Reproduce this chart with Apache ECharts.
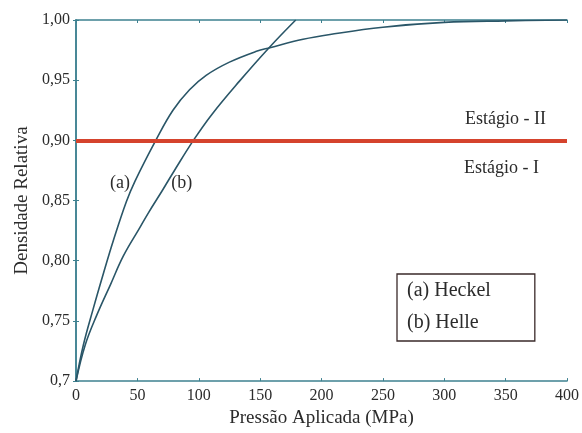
<!DOCTYPE html>
<html>
<head>
<meta charset="utf-8">
<script src="https://cdn.jsdelivr.net/npm/echarts@6/dist/echarts.min.js"></script>
<style>
html,body{margin:0;padding:0;background:#fff;}
#chart{width:582px;height:433px;}
</style>
</head>
<body>
<div id="chart"></div>
<script>
// Pressure (MPa) and relative density points
const heckelPressure = [0, 6, 14, 22.5, 30.5, 41, 48, 65, 79, 92.5, 106, 125, 147, 158, 185, 207, 250, 300, 350, 400];
const heckelDensity  = [0.700, 0.730, 0.760, 0.790, 0.817, 0.849, 0.866, 0.900, 0.925, 0.942, 0.954, 0.965, 0.974, 0.977, 0.984, 0.988, 0.994, 0.998, 0.9993, 1.000];
const hellePressure  = [0, 7.5, 17, 28, 38.6, 52, 58.5, 70.7, 80.2, 96.3, 111, 133, 157.3, 179];
const helleDensity   = [0.700, 0.730, 0.755, 0.780, 0.804, 0.8275, 0.839, 0.859, 0.875, 0.901, 0.922, 0.949, 0.977, 1.000];
const stageLimit = 0.90;
const seriesNames = ['(a) Heckel', '(b) Helle'];
const curveTags = ['(a)', '(b)'];
const curveTagPos = [[35.8, 0.864], [86.2, 0.864]];
const stageLabels = ['Estágio - II', 'Estágio - I'];
const xTitle = 'Pressão Aplicada (MPa)';
const yTitle = 'Densidade Relativa';

const FONT = 'Liberation Serif';
const TXT = '#2b2b2b';
const AXC = '#3e8190';
const LINEC = '#2a5668';
const RED = '#d5432d';

function pairs(xs, ys){ return xs.map((x,i)=>[x, ys[i]]); }
function yFmt(v){
  const r = Math.round(v*100)/100;
  if (Math.abs(r-0.7) < 1e-9) return '0,7';
  return r.toFixed(2).replace('.', ',');
}

const chart = echarts.init(document.getElementById('chart'), null, {renderer:'canvas'});
const baseAxis = {
  axisLine:{show:true, lineStyle:{color:AXC, width:1.5}},
  axisTick:{show:true, inside:true, length:3, lineStyle:{color:AXC}},
  splitLine:{show:false}
};
chart.setOption({
  animation:false,
  backgroundColor:'#fff',
  grid:{left:76, right:14, top:20, bottom:50},
  legend:{
    orient:'vertical', left:397, top:274,
    data:seriesNames.map(n=>({name:n, icon:'none'})),
    itemWidth:0, itemHeight:0, itemGap:12,
    padding:[7,44,8,5],
    borderColor:'#3a2a2a', borderWidth:1.3,
    selectedMode:false,
    textStyle:{fontFamily:FONT, fontSize:20, color:TXT}
  },
  xAxis:[
    Object.assign({}, baseAxis, {
      type:'value', min:0, max:400, interval:50, position:'bottom',
      name:xTitle, nameLocation:'middle', nameGap:18,
      nameTextStyle:{fontFamily:FONT, fontSize:19, color:TXT},
      axisLabel:{fontFamily:FONT, fontSize:16, color:TXT, margin:7}
    }),
    Object.assign({}, baseAxis, {
      type:'value', min:0, max:400, interval:50, position:'top',
      axisLabel:{show:false}
    })
  ],
  yAxis:[
    Object.assign({}, baseAxis, {
      type:'value', min:0.7, max:1.0, interval:0.05, position:'left',
      name:yTitle, nameLocation:'middle', nameGap:44,
      nameTextStyle:{fontFamily:FONT, fontSize:19, color:TXT},
      axisLabel:{fontFamily:FONT, fontSize:16, color:TXT, margin:6, formatter:yFmt}
    }),
    Object.assign({}, baseAxis, {
      type:'value', min:0.7, max:1.0, interval:0.05, position:'right',
      axisLabel:{show:false}
    })
  ],
  series:[
    {
      name:seriesNames[0], type:'line', data:pairs(heckelPressure, heckelDensity),
      smooth:0.4, showSymbol:false, symbol:'none',
      lineStyle:{color:LINEC, width:1.6}, itemStyle:{color:LINEC},
      z:3,
      markPoint:{
        symbol:'circle', symbolSize:0, silent:true,
        label:{show:true, position:'inside', fontFamily:FONT, fontSize:18, color:TXT, formatter:curveTags[0]},
        data:[{coord:curveTagPos[0]}]
      },
      markLine:{
        symbol:'none', silent:true,
        lineStyle:{color:RED, width:4, type:'solid'},
        data:[
          {yAxis:stageLimit, label:{show:true, position:'insideEndTop', formatter:stageLabels[0], distance:[21,12], fontFamily:FONT, fontSize:18, color:TXT}},
          {yAxis:stageLimit, label:{show:true, position:'insideEndBottom', formatter:stageLabels[1], distance:[28,19], fontFamily:FONT, fontSize:18, color:TXT}}
        ]
      }
    },
    {
      name:seriesNames[1], type:'line', data:pairs(hellePressure, helleDensity),
      smooth:0.4, showSymbol:false, symbol:'none',
      lineStyle:{color:LINEC, width:1.6}, itemStyle:{color:LINEC},
      z:3,
      markPoint:{
        symbol:'circle', symbolSize:0, silent:true,
        label:{show:true, position:'inside', fontFamily:FONT, fontSize:18, color:TXT, formatter:curveTags[1]},
        data:[{coord:curveTagPos[1]}]
      }
    }
  ]
});
</script>
</body>
</html>
